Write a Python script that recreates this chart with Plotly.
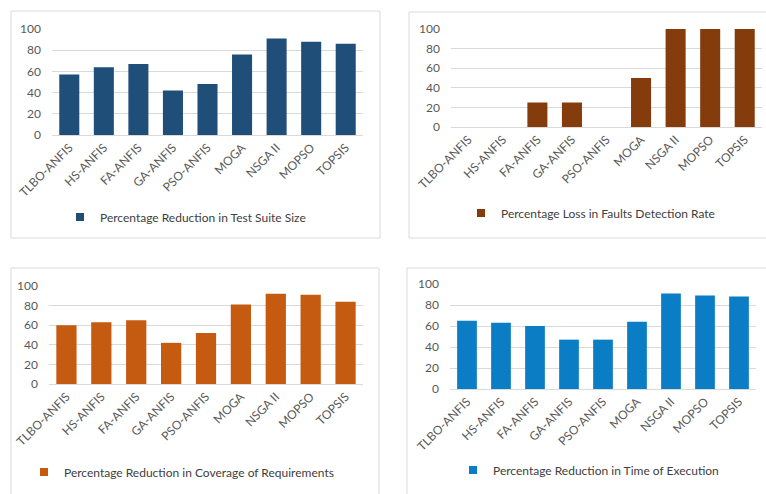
import plotly.graph_objects as go

W, H = 766, 494

categories = ["TLBO-ANFIS", "HS-ANFIS", "FA-ANFIS", "GA-ANFIS", "PSO-ANFIS",
              "MOGA", "NSGA II", "MOPSO", "TOPSIS"]

suite_size_reduction = [57, 64, 67, 42, 48, 76, 91, 88, 86]
fault_detection_loss = [0, 0, 25, 25, 0, 50, 100, 100, 100]
coverage_reduction = [60, 63, 65, 42, 52, 81, 92, 91, 84]
execution_time_reduction = [65, 63, 60, 47, 47, 64, 91, 89, 88]

series_names = [
    "Percentage Reduction in Test Suite Size",
    "Percentage Loss in Faults Detection Rate",
    "Percentage Reduction in Coverage of Requirements",
    "Percentage Reduction in Time of Execution",
]
series_values = [suite_size_reduction, fault_detection_loss,
                 coverage_reduction, execution_time_reduction]
colors = ["#1F4E79", "#843C0C", "#C55A11", "#0B7DC4"]
y_ticks = [0, 20, 40, 60, 80, 100]

# pixel layout of each panel: frame box, plot box, legend text start
panels = [
    dict(frame=(11, 11, 380, 238), plot=(52, 29, 363, 135), legend=(100, 217)),
    dict(frame=(409, 12, 770, 238), plot=(451, 29, 762, 127), legend=(501, 213)),
    dict(frame=(11, 268, 379, 498), plot=(49, 286, 363, 384), legend=(64, 472)),
    dict(frame=(407, 268, 770, 498), plot=(450, 284, 756, 389), legend=(493, 470)),
]


def px(x):
    return x / W


def py(y):
    return 1 - y / H


FONT = "Lato, 'Open Sans', sans-serif"
fig = go.Figure()
layout = dict(
    width=W, height=H,
    margin=dict(l=0, r=0, t=0, b=0, autoexpand=False),
    paper_bgcolor="white", plot_bgcolor="white",
    font=dict(family=FONT, color="#595959", size=12),
    bargap=0.42,
    shapes=[],
)

for i, (name, vals, col, p) in enumerate(zip(series_names, series_values, colors, panels)):
    n = "" if i == 0 else str(i + 1)
    xa, ya = "x" + n, "y" + n
    lg = "legend" + n
    fig.add_trace(go.Bar(
        x=categories, y=vals, name=name, marker=dict(color=col, line=dict(width=0)),
        xaxis=xa, yaxis=ya, showlegend=False,
    ))
    # small square legend key for the series
    fig.add_trace(go.Scatter(
        x=[None], y=[None], mode="markers", name=name,
        marker=dict(symbol="square", size=8, color=col),
        xaxis=xa, yaxis=ya, legend=lg, showlegend=True,
    ))
    x0, y0, x1, y1 = p["plot"]
    layout["xaxis" + n] = dict(
        domain=[px(x0), px(x1)], anchor=ya, tickangle=-45, automargin=False,
        showgrid=False, showline=True, linecolor="#D9D9D9", linewidth=1,
        ticks="", tickfont=dict(size=12, color="#595959"), fixedrange=True,
    )
    layout["yaxis" + n] = dict(
        domain=[py(y1), py(y0)], anchor=xa, range=[0, 100], automargin=False,
        tickvals=y_ticks, showgrid=True, gridcolor="#D9D9D9", gridwidth=1,
        zeroline=False, showline=False, ticks="", ticklabelstandoff=10,
        tickfont=dict(size=12, color="#595959"), fixedrange=True,
    )
    lx, ly = p["legend"]
    layout[lg] = dict(
        x=px(lx - 40), y=py(ly), xanchor="left", yanchor="middle",
        xref="container", yref="container",
        bgcolor="rgba(0,0,0,0)", font=dict(size=12, color="#404040"),
        itemclick=False, itemdoubleclick=False,
    )
    fx0, fy0, fx1, fy1 = p["frame"]
    layout["shapes"].append(dict(
        type="rect", xref="paper", yref="paper",
        x0=px(fx0), x1=px(fx1), y0=py(fy1), y1=py(fy0),
        line=dict(color="#D9D9D9", width=1), fillcolor="rgba(0,0,0,0)", layer="below",
    ))

fig.update_layout(**layout)
fig.write_html("out.html")
